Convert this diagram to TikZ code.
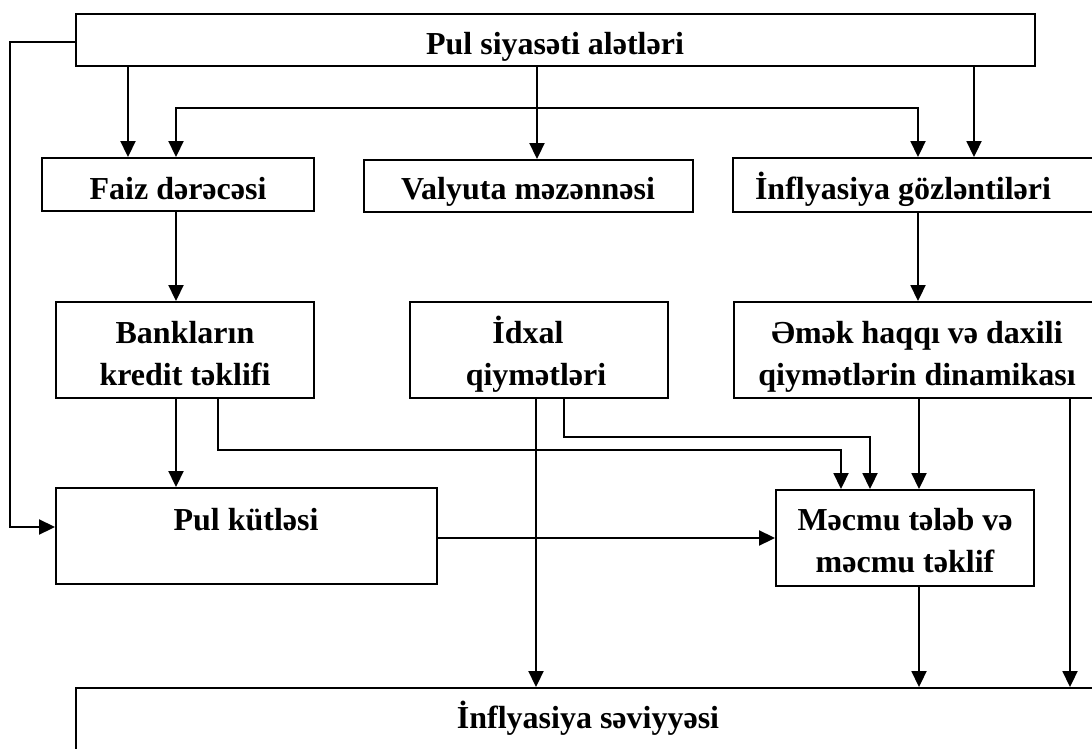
\documentclass[tikz,border=0pt]{standalone}
\usepackage{fontspec}
\setmainfont{Liberation Serif}
\usetikzlibrary{arrows.meta}
\tikzset{
  box/.style={draw, line width=1.9pt, inner sep=0pt, fill=none},
  txt/.style={font=\fontsize{32}{36}\selectfont\bfseries, inner sep=0pt, anchor=base},
  conn/.style={line width=1.9pt},
  arr/.style={conn, -{Triangle[length=16pt,width=15pt]}},
  arrboth/.style={conn, {Triangle[length=16pt,width=15pt]}-{Triangle[length=16pt,width=15pt]}}
}
\begin{document}
\begin{tikzpicture}[x=1pt,y=-1pt]
\useasboundingbox (0,0) rectangle (1092,749);
\clip (0,0) rectangle (1092,749);
% boxes
\node[box, minimum width=959pt, minimum height=52pt] (top) at (555.5,40) {};
\node[box, minimum width=272pt, minimum height=53pt] (faiz) at (178,184.5) {};
\node[box, minimum width=329pt, minimum height=52pt] (valyuta) at (528.5,186) {};
\node[box, minimum width=377pt, minimum height=54pt] (gozl) at (921.5,185) {};
\node[box, minimum width=258pt, minimum height=96pt] (bank) at (185,350) {};
\node[box, minimum width=258pt, minimum height=96pt] (idxal) at (539,350) {};
\node[box, minimum width=376pt, minimum height=96pt] (emek) at (922,350) {};
\node[box, minimum width=381pt, minimum height=96pt] (pul) at (246.5,536) {};
\node[box, minimum width=258pt, minimum height=96pt] (mecmu) at (905,538) {};
\node[box, minimum width=1034pt, minimum height=92pt] (sev) at (593,734) {};
% texts
\node[txt] (top-t) at (555,55) {Pul siyasəti alətləri};
\node[txt] (faiz-t) at (178,199) {Faiz dərəcəsi};
\node[txt] (valyuta-t) at (528,199) {Valyuta məzənnəsi};
\node[txt] (gozl-t) at (903,199) {İnflyasiya gözləntiləri};
\node[txt] (bank-t1) at (185,343) {Bankların};
\node[txt] (bank-t2) at (185,385) {kredit təklifi};
\node[txt] (idxal-t1) at (528,343) {İdxal};
\node[txt] (idxal-t2) at (536,385) {qiymətləri};
\node[txt] (emek-t1) at (917,343) {Əmək haqqı və daxili};
\node[txt] (emek-t2) at (917,385) {qiymətlərin dinamikası};
\node[txt] (pul-t) at (246,530) {Pul kütləsi};
\node[txt] (mecmu-t1) at (905,530) {Məcmu tələb və};
\node[txt] (mecmu-t2) at (905,572) {məcmu təklif};
\node[txt] (sev-t) at (588,728) {İnflyasiya səviyyəsi};
% connectors
\draw[arr] (top.west |- 0,42) -- (10,42) |- (pul.west |- 0,527);
\draw[arr] (top.south -| 128,0) -- (faiz.north -| 128,0);
\draw[arr] (top.south -| 537,0) -- (valyuta.north -| 537,0);
\draw[arr] (top.south -| 974,0) -- (gozl.north -| 974,0);
\draw[arrboth] (faiz.north -| 176,0) -- (176,108) -- (918,108) -- (gozl.north -| 918,0);
\draw[arr] (faiz.south -| 176,0) -- (bank.north -| 176,0);
\draw[arr] (gozl.south -| 918,0) -- (emek.north -| 918,0);
\draw[arr] (bank.south -| 176,0) -- (pul.north -| 176,0);
\draw[arr] (bank.south -| 218,0) -- (218,450) -- (841,450) -- (mecmu.north -| 841,0);
\draw[arr] (idxal.south -| 564,0) -- (564,437) -- (870,437) -- (mecmu.north -| 870,0);
\draw[arr] (idxal.south -| 536,0) -- (sev.north -| 536,0);
\draw[arr] (emek.south -| 919,0) -- (mecmu.north -| 919,0);
\draw[arr] (emek.south -| 1070,0) -- (sev.north -| 1070,0);
\draw[arr] (pul.east |- 0,538) -- (mecmu.west |- 0,538);
\draw[arr] (mecmu.south -| 919,0) -- (sev.north -| 919,0);
\end{tikzpicture}
\end{document}
